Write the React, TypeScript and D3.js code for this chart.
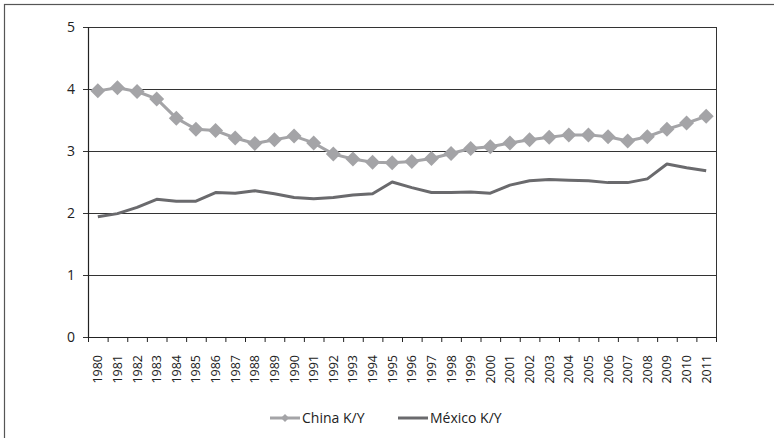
import React from "react";
import * as d3 from "d3";

const years = ["1980","1981","1982","1983","1984","1985","1986","1987","1988","1989","1990","1991","1992","1993","1994","1995","1996","1997","1998","1999","2000","2001","2002","2003","2004","2005","2006","2007","2008","2009","2010","2011"];
const chinaKY = [3.97,4.02,3.96,3.84,3.53,3.35,3.33,3.21,3.12,3.18,3.24,3.13,2.95,2.87,2.82,2.81,2.83,2.88,2.96,3.04,3.07,3.13,3.18,3.22,3.26,3.26,3.23,3.16,3.23,3.35,3.45,3.56];
const mexicoKY = [1.94,1.99,2.09,2.22,2.19,2.19,2.33,2.32,2.36,2.31,2.25,2.23,2.25,2.29,2.31,2.50,2.41,2.33,2.33,2.34,2.32,2.45,2.52,2.54,2.53,2.52,2.49,2.49,2.55,2.79,2.73,2.68];
const yTicks = [0,1,2,3,4,5];
const seriesNames = ["China K/Y", "México K/Y"];

const W = 774, H = 438;
const left = 88, right = 716, top = 27, bottom = 337;
const font = "'Open Sans', sans-serif";

export default function App() {
  const x = d3.scaleBand<string>().domain(years).range([left, right]).paddingInner(0).paddingOuter(0);
  const y = d3.scaleLinear().domain([0, 5]).range([bottom, top]);
  const cx = (yr: string) => (x(yr) as number) + x.bandwidth() / 2;
  const line = d3.line<number>().x((_, i) => cx(years[i])).y(d => y(d)).curve(d3.curveLinear);
  const chinaColor = "#a4a4a7";
  const mexColor = "#6a6a6d";
  const dsz = 7.5;
  const diamond = (px: number, py: number) => `M${px},${py - dsz}L${px + dsz},${py}L${px},${py + dsz}L${px - dsz},${py}Z`;
  const boundaries = years.map(yr => x(yr) as number).concat([right]);

  return (
    <svg width={W} height={H} style={{ position: "absolute", left: 0, top: 0, background: "#fff" }}>
      <rect x={4.5} y={4.5} width={780} height={450} fill="#fff" stroke="#555" strokeWidth={1.2} />
      {yTicks.map(t => (
        <g key={t}>
          <line x1={left - 5} x2={right} y1={Math.round(y(t)) + 0.5} y2={Math.round(y(t)) + 0.5} stroke="#333" strokeWidth={1} />
          <text x={75} y={y(t)} dy="0.35em" textAnchor="end" fontFamily={font} fontSize={14} fill="#222">{t}</text>
        </g>
      ))}
      <line x1={left + 0.5} x2={left + 0.5} y1={top} y2={bottom + 1} stroke="#222" strokeWidth={1.2} />
      <line x1={right + 0.5} x2={right + 0.5} y1={top} y2={bottom + 1} stroke="#333" strokeWidth={1} />
      <line x1={left} x2={right + 1} y1={bottom + 0.5} y2={bottom + 0.5} stroke="#222" strokeWidth={1.2} />
      {boundaries.map((b, i) => (
        <line key={i} x1={b + 0.5} x2={b + 0.5} y1={bottom} y2={bottom + 5} stroke="#222" strokeWidth={1} />
      ))}
      {years.map(yr => (
        <text key={yr} transform={`translate(${cx(yr) + 4.5},${355}) rotate(-90)`} textAnchor="end" fontFamily={font} fontSize={12.5} fill="#222">{yr}</text>
      ))}
      <path d={line(mexicoKY) || ""} fill="none" stroke={mexColor} strokeWidth={3} strokeLinejoin="round" />
      <path d={line(chinaKY) || ""} fill="none" stroke={chinaColor} strokeWidth={3} strokeLinejoin="round" />
      {chinaKY.map((v, i) => (
        <path key={i} d={diamond(cx(years[i]), y(v))} fill={chinaColor} />
      ))}
      <g>
        <line x1={270} x2={300} y1={418} y2={418} stroke={chinaColor} strokeWidth={3} />
        <path d={`M285,414L289,418L285,422L281,418Z`} fill={chinaColor} />
        <text x={302} y={418} dy="0.35em" fontFamily={font} fontSize={14} fill="#222">{seriesNames[0]}</text>
        <line x1={398} x2={428} y1={418} y2={418} stroke={mexColor} strokeWidth={3} />
        <text x={430} y={418} dy="0.35em" fontFamily={font} fontSize={14} fill="#222">{seriesNames[1]}</text>
      </g>
    </svg>
  );
}
